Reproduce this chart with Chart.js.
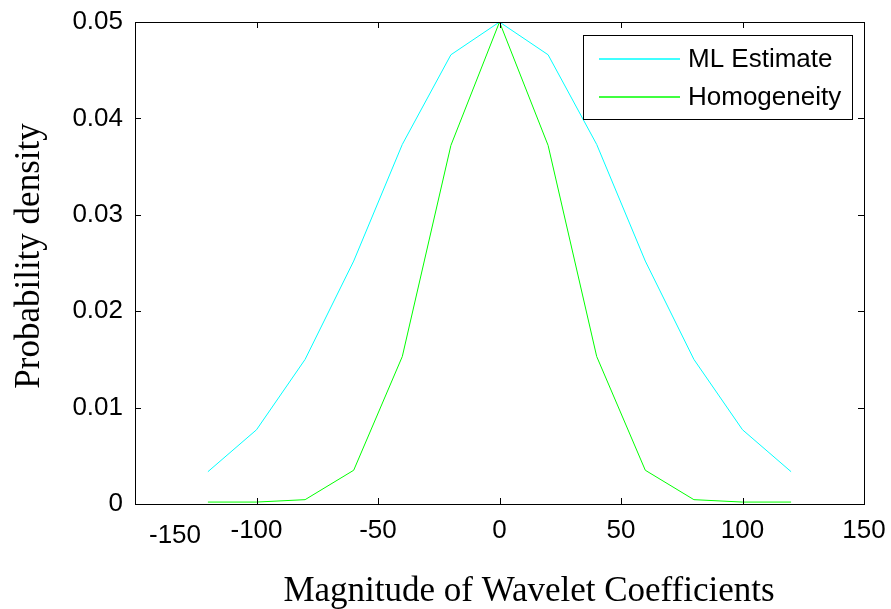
<!DOCTYPE html>
<html>
<head>
<meta charset="utf-8">
<script src="https://cdn.jsdelivr.net/npm/chart.js@4.4.0/dist/chart.umd.min.js"></script>
<style>
  body { margin: 0; background: #fff; }
  canvas { display: block; }
</style>
</head>
<body>
<canvas id="grafico" width="891" height="609"></canvas>
<script>
// data
const coefs = [-120, -100, -80, -60, -40, -20, 0, 20, 40, 60, 80, 100, 120];
const mlEstimate = [0.00335, 0.0077, 0.015, 0.0252, 0.0373, 0.0466, 0.05, 0.0466, 0.0373, 0.0252, 0.015, 0.0077, 0.00335];
const homogeneity = [0.0002, 0.0002, 0.00045, 0.0035, 0.0153, 0.0372, 0.05, 0.0372, 0.0153, 0.0035, 0.00045, 0.0002, 0.0002];
const xTicks = [-150, -100, -50, 0, 50, 100, 150];
const yTicks = [0, 0.01, 0.02, 0.03, 0.04, 0.05];
const seriesNames = ["ML Estimate", "Homogeneity"];
const xTitle = "Magnitude of Wavelet Coefficients";
const yTitle = "Probability density";

const sans = "'Liberation Sans', Arial, sans-serif";
const serif = "'Liberation Serif', 'Times New Roman', serif";
const colores = ["#00ffff", "#00ff00"];

// box, inward ticks, titles, shifted -150 label and legend, MATLAB style
const marcoPlugin = {
  id: "marco",
  afterDraw(chart) {
    const ctx = chart.ctx;
    const { left, right, top, bottom } = chart.chartArea;
    const xs = chart.scales.x;
    const ys = chart.scales.y;
    ctx.save();
    ctx.strokeStyle = "#000";
    ctx.lineWidth = 1;
    ctx.strokeRect(Math.round(left) + 0.5, Math.round(top) + 0.5, Math.round(right - left), Math.round(bottom - top));

    const tl = 6;
    ctx.beginPath();
    xTicks.forEach((v) => {
      const px = Math.round(xs.getPixelForValue(v)) + 0.5;
      ctx.moveTo(px, bottom); ctx.lineTo(px, bottom - tl);
      ctx.moveTo(px, top); ctx.lineTo(px, top + tl);
    });
    yTicks.forEach((v) => {
      const py = Math.round(ys.getPixelForValue(v)) + 0.5;
      ctx.moveTo(left, py); ctx.lineTo(left + tl, py);
      ctx.moveTo(right, py); ctx.lineTo(right - tl, py);
    });
    ctx.stroke();

    // the -150 label sits lower and to the right in the original
    ctx.fillStyle = "#000";
    ctx.font = "26px " + sans;
    ctx.textAlign = "center";
    ctx.textBaseline = "middle";
    ctx.fillText(String(xTicks[0]), 175, 536);

    // axis titles
    ctx.font = "35px " + serif;
    ctx.fillText(xTitle, 529, 592);
    ctx.save();
    ctx.translate(30, 256);
    ctx.rotate(-Math.PI / 2);
    ctx.fillText(yTitle, 0, 0);
    ctx.restore();

    // legend
    ctx.font = "26px " + sans;
    const lx = 583, ly = 35, lw = 269, lh = 84;
    ctx.fillStyle = "#fff";
    ctx.fillRect(lx, ly, lw, lh);
    ctx.strokeRect(lx + 0.5, ly + 0.5, lw, lh);
    chart.data.datasets.forEach((ds, i) => {
      const yy = 59 + i * 38;
      ctx.strokeStyle = ds.borderColor;
      ctx.lineWidth = 1.5;
      ctx.beginPath();
      ctx.moveTo(599, yy);
      ctx.lineTo(680, yy);
      ctx.stroke();
      ctx.fillStyle = "#000";
      ctx.textAlign = "left";
      ctx.fillText(ds.label, 688, yy + 1);
    });
    ctx.restore();
  },
};

new Chart(document.getElementById("grafico"), {
  type: "line",
  data: {
    datasets: [
      {
        label: seriesNames[0],
        data: coefs.map((x, i) => ({ x: x, y: mlEstimate[i] })),
        borderColor: colores[0],
        borderWidth: 1,
        pointRadius: 0,
        tension: 0,
      },
      {
        label: seriesNames[1],
        data: coefs.map((x, i) => ({ x: x, y: homogeneity[i] })),
        borderColor: colores[1],
        borderWidth: 1,
        pointRadius: 0,
        tension: 0,
      },
    ],
  },
  options: {
    responsive: false,
    animation: false,
    layout: { padding: { left: 0, right: 27, top: 22, bottom: 0 } },
    plugins: {
      legend: { display: false },
      tooltip: { enabled: false },
    },
    scales: {
      x: {
        type: "linear",
        min: -150,
        max: 150,
        afterBuildTicks: (scale) => { scale.ticks = xTicks.map((v) => ({ value: v })); },
        afterFit: (scale) => {
          scale.height = 105;
          scale.paddingLeft = 0;
          scale.paddingRight = 0;
        },
        grid: { display: false, drawTicks: false },
        border: { display: false },
        ticks: {
          color: "#000",
          font: { family: sans, size: 26 },
          padding: 11,
          maxRotation: 0,
          autoSkip: false,
          callback: (v) => (v === -150 ? "" : String(v)),
        },
      },
      y: {
        min: 0,
        max: 0.05,
        afterBuildTicks: (scale) => { scale.ticks = yTicks.map((v) => ({ value: v })); },
        afterFit: (scale) => {
          scale.width = 135;
          scale.paddingTop = 0;
          scale.paddingBottom = 0;
        },
        grid: { display: false, drawTicks: false },
        border: { display: false },
        ticks: {
          color: "#000",
          font: { family: sans, size: 26 },
          padding: 12,
          autoSkip: false,
          callback: (v) => (v === 0 ? "0" : v.toFixed(2)),
        },
      },
    },
  },
  plugins: [marcoPlugin],
});
</script>
</body>
</html>
